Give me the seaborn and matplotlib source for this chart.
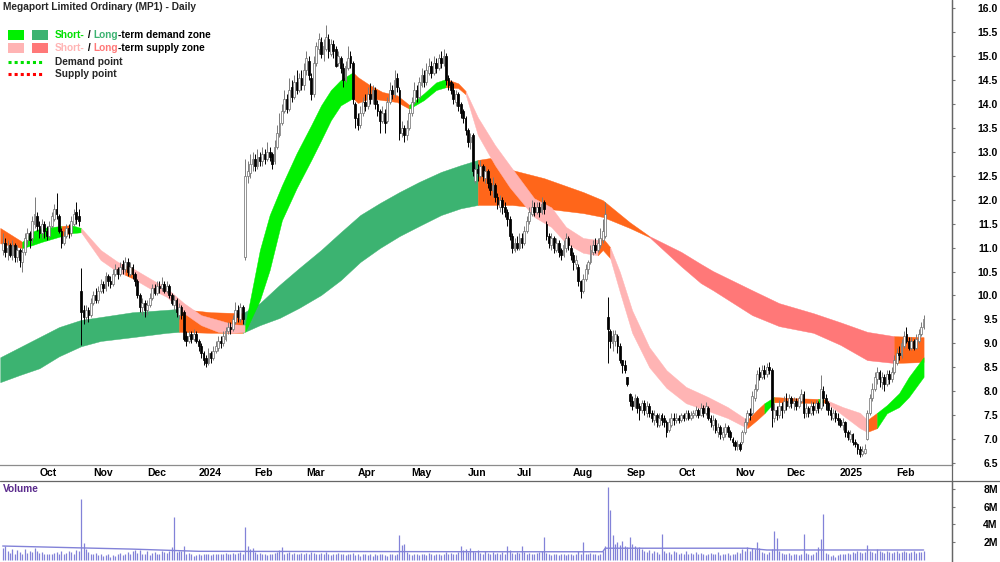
import numpy as np
import pandas as pd
import matplotlib
matplotlib.use("Agg")
import matplotlib.pyplot as plt
import matplotlib.transforms as mtransforms
from matplotlib.patches import Rectangle
from matplotlib.lines import Line2D
import seaborn as sns

TITLE = "Megaport Limited Ordinary (MP1) - Daily"

# trading days, 12 Sep 2023 .. 19 Feb 2025 (x axis = trading day number)
dates = pd.bdate_range("2023-09-12", periods=377)

# ---- daily candles (one row of numbers per month) ----
opens = [
    10.95, 11.10, 10.90, 11.05, 10.85, 11.05, 10.80, 10.95, 10.70, 10.90, 11.15, 11.30, 11.20, 11.50,
    11.65, 11.45, 11.30, 11.50, 11.35, 11.25, 11.45, 11.60, 11.80, 11.65, 11.35, 11.10, 11.25, 11.40, 11.30, 11.50, 11.75, 11.65, 10.10, 9.70, 9.55, 9.70,
    9.60, 9.85, 10.00, 9.90, 10.10, 10.25, 10.15, 10.40, 10.30, 10.25, 10.45, 10.55, 10.45, 10.65, 10.55, 10.70, 10.45, 10.60, 10.45, 10.30, 10.00, 9.75,
    9.85, 9.70, 9.80, 9.95, 10.15, 10.05, 10.20, 10.15, 10.25, 10.10, 10.20, 10.00, 9.80, 9.90, 9.60, 9.75, 9.65, 9.15, 9.05, 9.20, 9.10,
    9.20, 9.05, 8.95, 8.80, 8.70, 8.60, 8.80, 8.70, 8.85, 8.90, 9.05, 9.00, 9.10, 9.25, 9.35, 9.30, 9.45, 9.70, 9.50, 9.75, 10.80, 12.50, 12.55,
    12.75, 12.85, 12.70, 12.90, 12.80, 12.95, 12.85, 13.00, 12.95, 12.80, 13.10, 13.35, 13.60, 13.85, 14.10, 13.90, 14.35, 14.15, 14.45, 14.30, 14.55,
    14.40, 14.70, 14.90, 14.55, 14.20, 14.85, 15.15, 15.30, 15.05, 15.15, 15.35, 15.05, 15.25, 15.15, 14.85, 14.95, 14.75, 14.50, 14.75, 15.00, 14.85,
    14.00, 13.70, 13.55, 13.80, 14.05, 13.95, 14.20, 14.10, 14.30, 14.00, 13.85, 13.65, 13.80, 13.65, 14.05, 14.30, 14.20, 14.55, 14.30, 13.40, 13.50, 13.35,
    13.50, 13.80, 14.05, 14.30, 14.15, 14.40, 14.60, 14.45, 14.65, 14.80, 14.65, 14.85, 14.75, 14.95, 14.85, 15.00, 14.55, 14.45, 14.30, 14.05, 14.20, 14.00, 13.85,
    13.70, 13.45, 13.20, 13.35, 12.40, 12.65, 12.50, 12.70, 12.45, 12.60, 12.35, 12.20, 12.30, 12.05, 11.85, 12.00, 11.85, 11.75, 11.60, 11.25,
    10.95, 11.10, 11.00, 11.20, 11.10, 11.35, 11.55, 11.70, 11.85, 11.75, 11.85, 11.75, 11.95, 11.50, 11.25, 11.05, 11.20, 10.95, 11.10, 10.95, 10.85, 11.00, 11.20,
    11.00, 10.85, 10.65, 10.60, 10.30, 10.10, 10.35, 10.55, 10.70, 10.90, 11.05, 10.95, 11.05, 11.15, 11.25, 9.55, 9.25, 9.00, 9.05, 9.15, 8.95, 8.65,
    8.55, 8.30, 7.95, 7.80, 7.70, 7.85, 7.70, 7.60, 7.75, 7.55, 7.70, 7.55, 7.40, 7.50, 7.30, 7.50, 7.45, 7.35, 7.20, 7.30, 7.45,
    7.40, 7.45, 7.40, 7.50, 7.45, 7.55, 7.45, 7.50, 7.50, 7.60, 7.50, 7.65, 7.55, 7.65, 7.45, 7.30, 7.40, 7.15, 7.25, 7.05, 7.10, 7.25, 7.15,
    7.00, 6.95, 6.85, 6.90, 6.95, 7.15, 7.35, 7.55, 7.55, 7.85, 8.05, 8.40, 8.30, 8.45, 8.35, 8.50, 8.44, 7.45, 7.60, 7.50, 7.70,
    7.60, 7.80, 7.70, 7.85, 7.75, 7.80, 7.70, 7.80, 7.95, 7.55, 7.65, 7.55, 7.70, 7.60, 7.75, 7.65, 8.00, 7.85, 7.75, 7.60, 7.45, 7.55,
    7.45, 7.40, 7.30, 7.35, 7.15, 7.00, 7.10, 6.95, 6.90, 6.80, 6.68, 6.72, 7.00, 7.55, 7.85, 8.05, 8.25, 8.40, 8.20, 8.30, 8.15, 8.35, 8.25,
    8.40, 8.60, 8.80, 8.75, 8.95, 9.20, 9.05, 8.90, 9.05, 8.90, 9.05, 9.20, 9.35,
]
highs = [
    11.30, 11.20, 11.15, 11.10, 11.15, 11.10, 11.05, 11.00, 11.00, 11.30, 11.40, 11.35, 11.65, 12.05,
    11.75, 11.55, 11.60, 11.55, 11.45, 11.55, 11.75, 11.90, 12.13, 11.70, 11.40, 11.35, 11.50, 11.50, 11.65, 11.80, 11.95, 11.80, 10.57, 9.80, 9.80, 9.75,
    9.95, 10.10, 10.15, 10.20, 10.35, 10.30, 10.50, 10.45, 10.40, 10.55, 10.65, 10.60, 10.70, 10.75, 10.80, 10.78, 10.70, 10.65, 10.50, 10.35, 10.05, 9.95,
    9.90, 9.90, 10.05, 10.25, 10.25, 10.30, 10.30, 10.38, 10.30, 10.30, 10.25, 10.05, 10.00, 9.95, 9.85, 9.80, 9.70, 9.25, 9.25, 9.25, 9.30,
    9.25, 9.10, 9.00, 8.85, 8.75, 8.90, 8.85, 8.95, 9.05, 9.15, 9.15, 9.25, 9.35, 9.45, 9.45, 9.60, 9.86, 9.80, 9.85, 9.80, 12.85, 12.80, 12.95,
    13.00, 12.95, 13.05, 13.00, 13.10, 13.05, 13.20, 13.10, 13.00, 13.25, 13.55, 13.80, 14.00, 14.30, 14.20, 14.55, 14.50, 14.60, 14.70, 14.65, 14.70,
    14.85, 15.10, 15.00, 14.65, 15.00, 15.30, 15.48, 15.40, 15.35, 15.65, 15.45, 15.35, 15.33, 15.20, 15.10, 15.00, 14.85, 14.90, 15.20, 15.10, 14.90,
    14.05, 13.80, 13.95, 14.15, 14.20, 14.35, 14.43, 14.40, 14.35, 14.08, 13.90, 13.95, 13.90, 14.15, 14.45, 14.40, 14.70, 14.65, 14.35, 13.65, 13.55, 13.66,
    13.90, 14.15, 14.45, 14.40, 14.56, 14.75, 14.70, 14.85, 14.95, 14.90, 15.00, 14.95, 15.05, 15.10, 15.15, 15.06, 14.60, 14.50, 14.43, 14.30, 14.25, 14.05, 13.90,
    13.75, 13.50, 13.40, 13.39, 12.75, 12.75, 12.83, 12.75, 12.70, 12.65, 12.45, 12.47, 12.35, 12.14, 12.10, 12.05, 11.95, 11.80, 11.65, 11.30,
    11.20, 11.25, 11.30, 11.30, 11.45, 11.65, 11.85, 11.99, 11.95, 11.95, 11.95, 12.05, 12.00, 11.55, 11.30, 11.30, 11.25, 11.20, 11.15, 11.00, 11.15, 11.30, 11.25,
    11.05, 10.90, 10.85, 10.65, 10.32, 10.45, 10.65, 10.74, 11.05, 11.15, 11.20, 11.20, 11.40, 11.60, 11.95, 9.97, 9.30, 9.28, 9.28, 9.20, 9.00, 8.65,
    8.65, 8.30, 7.96, 7.90, 7.95, 7.90, 7.75, 7.82, 7.82, 7.80, 7.75, 7.61, 7.61, 7.55, 7.55, 7.55, 7.50, 7.40, 7.45, 7.55, 7.55,
    7.55, 7.50, 7.55, 7.55, 7.61, 7.60, 7.58, 7.61, 7.70, 7.65, 7.75, 7.72, 7.78, 7.70, 7.50, 7.50, 7.45, 7.34, 7.30, 7.25, 7.34, 7.30, 7.20,
    7.05, 6.98, 6.98, 6.95, 7.20, 7.45, 7.60, 7.65, 8.00, 8.15, 8.45, 8.50, 8.55, 8.55, 8.59, 8.62, 8.48, 7.75, 7.70, 7.82, 7.78,
    7.90, 7.96, 7.95, 7.90, 7.88, 7.85, 7.90, 8.05, 8.00, 7.75, 7.70, 7.80, 7.78, 7.82, 7.80, 8.34, 8.10, 7.95, 7.80, 7.67, 7.62, 7.60,
    7.55, 7.45, 7.45, 7.38, 7.20, 7.20, 7.13, 7.00, 6.92, 6.85, 6.85, 6.90, 7.60, 7.95, 8.17, 8.40, 8.50, 8.45, 8.40, 8.35, 8.45, 8.45, 8.50,
    8.75, 8.90, 8.95, 9.10, 9.25, 9.34, 9.13, 9.13, 9.10, 9.20, 9.30, 9.45, 9.59,
]
lows = [
    10.85, 10.80, 10.75, 10.80, 10.75, 10.70, 10.70, 10.60, 10.50, 10.85, 11.05, 11.00, 11.10, 11.40,
    11.35, 11.20, 11.20, 11.20, 11.15, 11.20, 11.40, 11.55, 11.60, 11.30, 11.00, 11.05, 11.20, 11.20, 11.25, 11.45, 11.50, 11.45, 8.96, 9.40, 9.45, 9.45,
    9.55, 9.80, 9.85, 9.85, 10.05, 10.05, 10.10, 10.20, 10.15, 10.20, 10.40, 10.35, 10.40, 10.45, 10.50, 10.40, 10.40, 10.35, 10.20, 9.95, 9.65, 9.60,
    9.55, 9.60, 9.75, 9.90, 10.00, 10.00, 10.05, 10.10, 10.05, 10.05, 9.95, 9.80, 9.70, 9.55, 9.50, 9.50, 9.05, 8.95, 9.00, 9.00, 9.05,
    9.00, 8.85, 8.70, 8.55, 8.50, 8.55, 8.60, 8.65, 8.80, 8.85, 8.90, 8.95, 9.05, 9.20, 9.20, 9.25, 9.40, 9.45, 9.45, 9.40, 10.75, 12.35, 12.45,
    12.60, 12.60, 12.65, 12.70, 12.70, 12.75, 12.80, 12.80, 12.65, 12.75, 13.05, 13.30, 13.55, 13.80, 13.80, 13.85, 14.05, 14.10, 14.20, 14.25, 14.30,
    14.30, 14.60, 14.50, 14.08, 14.15, 14.80, 15.05, 14.95, 14.90, 15.10, 14.95, 15.00, 14.95, 14.77, 14.80, 14.65, 14.35, 14.45, 14.70, 14.75, 14.00,
    13.50, 13.45, 13.50, 13.75, 13.85, 13.90, 14.00, 14.00, 13.90, 13.75, 13.40, 13.60, 13.39, 13.60, 14.00, 14.10, 14.15, 14.25, 13.25, 13.30, 13.20, 13.25,
    13.45, 13.75, 14.00, 14.05, 14.10, 14.35, 14.35, 14.40, 14.60, 14.55, 14.60, 14.64, 14.70, 14.75, 14.80, 14.40, 14.30, 14.20, 14.00, 13.95, 13.85, 13.70, 13.60,
    13.35, 13.10, 13.05, 12.50, 12.35, 12.40, 12.45, 12.40, 12.35, 12.25, 12.10, 12.05, 11.95, 11.80, 11.75, 11.70, 11.64, 11.45, 11.15, 10.89,
    10.90, 10.95, 10.95, 11.00, 11.05, 11.30, 11.50, 11.65, 11.65, 11.70, 11.64, 11.70, 11.70, 11.15, 11.00, 10.95, 10.89, 10.90, 10.80, 10.74, 10.80, 10.90, 10.95,
    10.75, 10.53, 10.55, 10.20, 9.95, 10.05, 10.30, 10.45, 10.65, 10.85, 10.89, 10.90, 11.00, 11.10, 11.20, 8.59, 8.90, 8.85, 8.95, 8.80, 8.59, 8.38,
    8.38, 8.10, 7.70, 7.60, 7.65, 7.55, 7.40, 7.55, 7.50, 7.46, 7.46, 7.35, 7.30, 7.25, 7.25, 7.30, 7.25, 7.04, 7.15, 7.25, 7.30,
    7.34, 7.34, 7.35, 7.38, 7.40, 7.40, 7.40, 7.45, 7.46, 7.45, 7.48, 7.46, 7.50, 7.40, 7.25, 7.20, 7.13, 7.05, 7.00, 6.98, 7.05, 7.05, 6.98,
    6.85, 6.77, 6.77, 6.75, 6.90, 7.10, 7.30, 7.40, 7.50, 7.80, 8.00, 8.23, 8.25, 8.25, 8.30, 8.35, 7.25, 7.35, 7.40, 7.45, 7.45,
    7.55, 7.60, 7.65, 7.65, 7.61, 7.61, 7.65, 7.75, 7.45, 7.46, 7.46, 7.50, 7.50, 7.55, 7.55, 7.60, 7.70, 7.61, 7.50, 7.40, 7.40, 7.35,
    7.30, 7.25, 7.20, 7.05, 6.98, 6.95, 6.88, 6.84, 6.70, 6.63, 6.65, 6.68, 6.98, 7.50, 7.80, 8.00, 8.15, 8.09, 8.05, 8.00, 8.10, 8.15, 8.20,
    8.35, 8.55, 8.65, 8.70, 8.90, 9.00, 8.86, 8.86, 8.86, 8.88, 9.00, 9.15, 9.30,
]
closes = [
    11.10, 10.90, 11.00, 10.85, 11.05, 10.80, 10.95, 10.75, 10.90, 11.20, 11.30, 11.15, 11.55, 11.70,
    11.45, 11.30, 11.50, 11.35, 11.25, 11.45, 11.65, 11.80, 11.70, 11.35, 11.10, 11.25, 11.40, 11.30, 11.55, 11.70, 11.60, 11.55, 9.65, 9.55, 9.70, 9.60,
    9.85, 10.00, 9.90, 10.10, 10.25, 10.15, 10.40, 10.30, 10.25, 10.45, 10.55, 10.45, 10.60, 10.55, 10.70, 10.50, 10.60, 10.45, 10.30, 10.00, 9.75, 9.85,
    9.70, 9.80, 9.95, 10.15, 10.05, 10.20, 10.15, 10.25, 10.10, 10.20, 10.00, 9.85, 9.90, 9.65, 9.75, 9.60, 9.10, 9.05, 9.15, 9.10, 9.20,
    9.05, 8.95, 8.80, 8.65, 8.60, 8.80, 8.70, 8.85, 8.95, 9.05, 9.00, 9.15, 9.25, 9.35, 9.30, 9.50, 9.70, 9.55, 9.75, 9.50, 12.50, 12.60, 12.75,
    12.85, 12.70, 12.90, 12.80, 12.95, 12.85, 13.00, 12.90, 12.75, 13.10, 13.40, 13.60, 13.85, 14.10, 13.90, 14.30, 14.15, 14.45, 14.30, 14.55, 14.40,
    14.70, 14.95, 14.60, 14.20, 14.85, 15.20, 15.35, 15.05, 15.20, 15.40, 15.10, 15.25, 15.10, 14.80, 15.00, 14.75, 14.50, 14.80, 14.95, 14.85, 14.10,
    13.70, 13.55, 13.80, 14.05, 13.95, 14.20, 14.10, 14.30, 14.00, 13.85, 13.65, 13.80, 13.60, 14.05, 14.30, 14.20, 14.50, 14.35, 13.40, 13.50, 13.35, 13.50,
    13.80, 14.05, 14.30, 14.15, 14.45, 14.60, 14.45, 14.70, 14.80, 14.65, 14.85, 14.75, 14.95, 14.85, 15.00, 14.50, 14.40, 14.30, 14.10, 14.20, 13.95, 13.80, 13.70,
    13.45, 13.20, 13.30, 12.60, 12.65, 12.55, 12.70, 12.50, 12.60, 12.35, 12.20, 12.30, 12.05, 11.90, 12.00, 11.85, 11.75, 11.60, 11.25, 11.00,
    11.10, 11.00, 11.20, 11.10, 11.35, 11.55, 11.75, 11.85, 11.75, 11.85, 11.75, 11.90, 11.80, 11.25, 11.10, 11.20, 11.00, 11.10, 10.90, 10.85, 11.05, 11.20, 11.05,
    10.85, 10.70, 10.75, 10.30, 10.10, 10.35, 10.55, 10.70, 10.95, 11.05, 10.95, 11.10, 11.20, 11.35, 11.70, 9.30, 9.05, 9.15, 9.20, 8.95, 8.65, 8.55,
    8.45, 8.15, 7.80, 7.70, 7.85, 7.65, 7.60, 7.75, 7.60, 7.70, 7.55, 7.45, 7.50, 7.35, 7.45, 7.40, 7.35, 7.15, 7.35, 7.45, 7.40,
    7.45, 7.40, 7.50, 7.45, 7.55, 7.45, 7.50, 7.55, 7.60, 7.50, 7.65, 7.55, 7.70, 7.45, 7.35, 7.40, 7.20, 7.25, 7.10, 7.15, 7.25, 7.15, 7.05,
    6.95, 6.85, 6.90, 6.80, 7.15, 7.35, 7.55, 7.50, 7.90, 8.05, 8.35, 8.30, 8.45, 8.35, 8.50, 8.45, 7.60, 7.60, 7.50, 7.70, 7.60,
    7.80, 7.70, 7.85, 7.75, 7.80, 7.70, 7.85, 7.95, 7.55, 7.65, 7.55, 7.70, 7.60, 7.75, 7.65, 8.05, 7.85, 7.75, 7.60, 7.50, 7.55, 7.45,
    7.40, 7.30, 7.35, 7.15, 7.05, 7.10, 6.95, 6.90, 6.80, 6.70, 6.75, 6.80, 7.55, 7.85, 8.05, 8.30, 8.40, 8.25, 8.30, 8.15, 8.35, 8.25, 8.40,
    8.65, 8.80, 8.75, 9.00, 9.15, 9.05, 8.90, 9.05, 8.90, 9.10, 9.20, 9.35, 9.50,
]
# daily volume, millions of shares
volume_m = [
    1.3, 1.6, 1.0, 0.8, 1.2, 0.7, 1.1, 0.9, 0.6, 1.2, 0.8, 1.0, 0.9, 1.3,
    1.0, 0.8, 0.9, 0.7, 0.6, 0.7, 0.6, 0.8, 0.9, 0.7, 1.0, 0.6, 0.8, 1.0, 0.9, 0.7, 1.1, 1.0, 6.9, 1.9, 1.2, 0.9,
    0.7, 0.6, 0.8, 0.5, 0.6, 0.4, 0.5, 0.7, 0.3, 0.5, 0.4, 0.6, 0.8, 0.5, 0.7, 0.9, 0.6, 1.0, 1.1, 0.8, 1.1, 0.7,
    0.6, 1.0, 0.5, 0.8, 0.9, 0.7, 0.6, 1.0, 0.9, 0.8, 1.0, 1.4, 4.8, 0.9, 1.0, 1.0, 1.5, 0.7, 0.8, 0.6, 0.4,
    0.5, 0.6, 0.5, 0.6, 0.7, 0.6, 0.5, 0.7, 0.6, 0.7, 0.6, 0.7, 0.8, 0.7, 0.6, 0.8, 0.7, 0.8, 0.9, 0.6, 3.7, 1.5, 1.2,
    1.3, 0.9, 0.7, 0.8, 0.6, 0.7, 0.5, 0.6, 0.7, 0.8, 0.9, 1.1, 1.4, 0.6, 0.8, 0.9, 0.7, 0.8, 0.7, 0.6, 0.8,
    0.7, 0.8, 0.6, 0.9, 0.8, 0.7, 0.6, 0.8, 0.7, 0.9, 0.6, 0.5, 0.7, 0.6, 0.8, 0.7, 0.6, 0.5, 0.7, 0.6, 0.8,
    0.5, 0.6, 0.4, 0.7, 0.6, 0.5, 0.7, 0.4, 0.6, 0.5, 0.7, 0.6, 0.5, 0.4, 0.6, 0.7, 0.5, 0.6, 2.8, 1.7, 1.8, 0.9,
    0.6, 0.5, 0.7, 0.6, 0.5, 0.7, 0.6, 0.5, 0.8, 0.6, 0.5, 0.7, 0.6, 0.5, 0.7, 0.9, 0.6, 0.8, 0.7, 0.6, 0.9, 1.5, 1.1,
    1.2, 0.9, 1.3, 1.0, 0.9, 1.1, 0.8, 0.7, 1.0, 0.8, 0.7, 0.9, 0.6, 0.8, 0.7, 0.9, 0.6, 1.6, 1.1, 0.8,
    0.7, 0.9, 0.8, 1.6, 0.9, 0.7, 0.8, 0.6, 0.7, 0.8, 0.9, 1.0, 2.6, 0.8, 0.6, 0.5, 0.7, 0.6, 0.5, 0.6, 0.7, 0.5, 0.6,
    0.6, 0.5, 0.7, 1.0, 0.6, 2.0, 0.7, 0.6, 0.8, 0.7, 0.6, 0.5, 0.7, 1.0, 1.5, 8.2, 5.6, 2.8, 1.8, 2.0, 1.7, 2.1,
    1.6, 1.4, 2.6, 1.8, 1.5, 1.3, 1.4, 1.2, 1.0, 0.9, 1.1, 0.8, 1.0, 0.9, 0.7, 2.9, 1.0, 0.8, 0.9, 0.7, 1.0,
    0.9, 0.6, 0.8, 0.7, 1.0, 0.6, 0.8, 0.7, 0.9, 0.6, 0.8, 0.7, 0.5, 0.6, 0.8, 0.7, 0.6, 0.9, 0.5, 0.7, 0.6, 0.8, 0.5,
    0.7, 0.6, 0.9, 0.8, 1.2, 1.0, 1.4, 1.0, 1.3, 1.2, 2.0, 1.3, 0.9, 0.8, 0.7, 0.9, 1.2, 3.2, 2.5, 1.0, 0.8,
    0.7, 0.6, 0.8, 0.5, 0.6, 0.7, 0.5, 0.6, 2.9, 0.8, 0.6, 0.5, 0.7, 0.9, 1.4, 2.4, 5.2, 0.8, 0.6, 0.4, 0.5, 0.3,
    0.5, 0.6, 0.7, 0.6, 0.8, 0.7, 0.9, 0.8, 1.0, 0.9, 0.8, 0.9, 1.7, 1.0, 0.9, 0.8, 1.2, 1.0, 0.9, 0.8, 1.0, 0.9, 0.8,
    0.9, 1.0, 0.8, 0.9, 1.0, 0.9, 0.8, 0.9, 1.0, 0.8, 0.9, 0.9, 1.0,
]
# volume average line (read at a few trading days)
vol_avg_day = [0, 30, 53, 80, 203, 245, 246, 304, 312, 376]
vol_avg_m = [1.55, 1.35, 1.2, 0.95, 0.9, 0.9, 1.3, 1.3, 1.1, 1.1]

# ---- zones: edges read at trading days, state per interval ----
# D = demand, S = supply, N = orange (neither)
long_day = [-1, 7, 15, 23, 32, 40, 53, 67, 72, 85, 98, 105, 113, 121, 130, 138, 146, 154, 162, 170,
            179, 187, 194, 199, 208, 221, 237, 245, 256, 264, 277, 285, 290, 306, 317, 331, 342, 353, 364, 376]
long_top = [8.71, 8.92, 9.13, 9.34, 9.49, 9.55, 9.65, 9.70, 9.72, 9.65, 9.63, 9.84, 10.22, 10.57, 10.95, 11.32, 11.68, 11.93, 12.16, 12.37,
            12.58, 12.72, 12.83, 12.87, 12.62, 12.45, 12.16, 11.99, 11.53, 11.24, 10.91, 10.66, 10.51, 10.11, 9.84, 9.63, 9.44, 9.24, 9.15, 9.13]
long_bot = [8.19, 8.34, 8.48, 8.73, 8.94, 9.05, 9.13, 9.22, 9.24, 9.22, 9.22, 9.38, 9.53, 9.74, 10.01, 10.32, 10.70, 10.99, 11.24, 11.45,
            11.68, 11.82, 11.89, 11.89, 11.89, 11.82, 11.72, 11.64, 11.41, 11.22, 10.61, 10.26, 10.11, 9.59, 9.36, 9.22, 8.97, 8.65, 8.59, 8.61]
long_state = "DDDDDDDDNNDDDDDDDDDDDDNNNNNNNSSSSSSSSSN"

short_day = [-1, 8, 12, 16, 24, 28, 32, 40, 47, 50, 53, 60, 67, 74, 81, 88, 94, 99, 105, 109,
             114, 120, 126, 130, 134, 138, 143, 145, 150, 155, 161, 166, 172, 177, 181, 186, 189, 194, 201, 207,
             217, 224, 230, 237, 243, 245, 248, 252, 257, 264, 271, 279, 288, 296, 304, 308, 311, 315, 321, 333,
             335, 337, 343, 350, 353, 357, 361, 366, 370, 376]
short_top = [11.41, 11.12, 11.33, 11.41, 11.45, 11.47, 11.41, 10.95, 10.70, 10.63, 10.57, 10.36, 10.15, 9.84, 9.59, 9.49, 9.40, 9.38, 10.95, 11.68,
             12.30, 12.97, 13.56, 13.97, 14.29, 14.50, 14.66, 14.56, 14.39, 14.25, 14.18, 13.98, 14.22, 14.45, 14.52, 14.43, 14.27, 13.72, 13.14, 12.72,
             12.03, 11.84, 11.43, 11.20, 11.16, 11.20, 11.01, 10.49, 9.69, 8.92, 8.44, 8.09, 7.88, 7.67, 7.40, 7.61, 7.75, 7.88, 7.86, 7.84,
             7.84, 7.80, 7.67, 7.55, 7.40, 7.55, 7.71, 7.96, 8.30, 8.71]
short_bot = [11.09, 10.99, 11.05, 11.12, 11.24, 11.30, 11.32, 10.74, 10.49, 10.43, 10.36, 10.15, 9.97, 9.63, 9.38, 9.24, 9.22, 9.24, 9.90, 10.53,
             11.57, 12.24, 12.83, 13.24, 13.66, 13.97, 14.12, 14.02, 14.12, 14.08, 14.04, 13.90, 14.08, 14.29, 14.35, 14.33, 14.20, 13.35, 12.72, 12.26,
             11.64, 11.43, 11.09, 10.89, 10.84, 10.95, 10.78, 10.07, 9.22, 8.50, 8.07, 7.75, 7.59, 7.44, 7.23, 7.40, 7.54, 7.77, 7.77, 7.75,
             7.77, 7.73, 7.50, 7.23, 7.15, 7.23, 7.54, 7.67, 7.88, 8.30]
short_state = "NDDDNDSSSNSSSSSSSDDDDDDDDDNNNNNDDDNNSSSSSSSSNNSSSSSSSSNNDNNDNSSSNDDDD"

for arr in (opens, highs, lows, closes, volume_m):
    assert len(arr) == len(dates), len(arr)
assert len(long_state) == len(long_day) - 1
assert len(short_state) == len(short_day) - 1

SHORT_COLORS = {"D": "#00f000", "S": "#ffb4b4", "N": "#ff661a"}
LONG_COLORS = {"D": "#3cb371", "S": "#ff7878", "N": "#ff661a"}


def draw_zone(ax, day, top, bot, state, colors, z):
    day, top, bot = np.asarray(day), np.asarray(top), np.asarray(bot)
    start = 0
    for k in range(1, len(state) + 1):
        if k == len(state) or state[k] != state[start]:
            sl = slice(start, k + 1)
            ax.fill_between(day[sl], bot[sl], top[sl], color=colors[state[start]],
                            lw=0.3, zorder=z)
            start = k


sns.set_theme(style="white")
plt.rcParams['font.family'] = ['Liberation Sans', 'DejaVu Sans']
FS = 7.3

fig = plt.figure(figsize=(10, 5.62), dpi=100)
W, H = 1000, 562
ax = fig.add_axes([0, 1 - 465 / H, 952 / W, 465 / H])
axv = fig.add_axes([0, 0, 952 / W, 81 / H], sharex=ax)

days = np.arange(len(dates))
o, h, l, c = map(np.asarray, (opens, highs, lows, closes))
up = c >= o

# zones under the candles
draw_zone(ax, long_day, long_top, long_bot, long_state, LONG_COLORS, 1)
draw_zone(ax, short_day, short_top, short_bot, short_state, SHORT_COLORS, 2)

# candles
ax.vlines(days, l, h, colors=np.where(up, "#7a7a7a", "#000000"), lw=0.7, zorder=3)
ax.bar(days, np.maximum(np.abs(c - o), 0.02), bottom=np.minimum(o, c), width=0.74,
       color=np.where(up, "#ffffff", "#000000"), edgecolor=np.where(up, "#767676", "#000000"),
       linewidth=0.55, zorder=4)

ax.set_xlim(-1.1, 387.6)
ax.set_ylim(6.46, 16.17)
ax.set_yticks(np.arange(6.5, 16.01, 0.5))
ax.yaxis.set_major_formatter(matplotlib.ticker.FormatStrFormatter("%.1f"))
ax.yaxis.tick_right()
ax.tick_params(axis="y", direction="out", length=2.5, width=0.8, color="#777777",
               pad=30.5, labelsize=FS + 0.2, labelcolor="black")
for t in ax.get_yticklabels():
    t.set_ha("right")
    t.set_fontweight("bold")

# month ticks on the bottom of the price panel
month_start = [i for i in range(1, len(dates)) if dates[i].month != dates[i - 1].month]
month_lbl = [str(dates[i].year) if dates[i].month == 1 else dates[i].strftime("%b") for i in month_start]
ax.set_xticks(month_start)
ax.set_xticklabels([])
ax.tick_params(axis="x", direction="out", length=2.5, width=0.8, color="#888888")
blend = mtransforms.blended_transform_factory(ax.transData, ax.transAxes)
for i, lbl in zip(month_start, month_lbl):
    ax.text(i + 0.9, -0.006, lbl, transform=blend, ha="left", va="top",
            fontsize=FS + 0.2, fontweight="bold", color="black", clip_on=False)

for s in ("top", "left"):
    ax.spines[s].set_visible(False)
ax.spines["bottom"].set_color("#8c8c8c")
ax.spines["bottom"].set_linewidth(0.9)
ax.spines["right"].set_color("#666666")
ax.spines["right"].set_linewidth(0.9)

# volume panel
axv.vlines(days, 0, volume_m, colors="#8282d8", lw=0.9, zorder=2)
sns.lineplot(x=vol_avg_day, y=vol_avg_m, ax=axv, color="#8282d8", lw=1.0, zorder=3)
axv.set_ylim(-0.26, 8.91)
axv.set_yticks([2, 4, 6, 8])
axv.set_yticklabels(["2M", "4M", "6M", "8M"])
axv.yaxis.tick_right()
axv.tick_params(axis="y", direction="out", length=2.5, width=0.8, color="#777777",
                pad=30.5, labelsize=FS + 0.2, labelcolor="black")
for t in axv.get_yticklabels():
    t.set_ha("right")
    t.set_fontweight("bold")
axv.tick_params(axis="x", length=0, labelbottom=False)
axv.set_xlabel("")
axv.set_ylabel("")
for s in ("bottom", "left", "top"):
    axv.spines[s].set_visible(False)
axv.spines["right"].set_color("#666666")
axv.spines["right"].set_linewidth(0.9)
fig.text(3 / W, 1 - 484 / H, "Volume", color="#5a2a8c", fontsize=FS, fontweight="bold",
         ha="left", va="top")

# frame lines across the figure
fig.add_artist(Line2D([0, 1], [1 - 481 / H, 1 - 481 / H], transform=fig.transFigure,
                      color="#666666", lw=0.9))
fig.add_artist(Line2D([952 / W, 952 / W], [0, 1], transform=fig.transFigure,
                      color="#666666", lw=0.9))

# title and legend
fig.text(3 / W, 1 - 2 / H, TITLE, fontsize=FS, fontweight="bold", ha="left", va="top")


def fig_rect(x, y, w, hgt, color):
    fig.add_artist(Rectangle((x / W, 1 - (y + hgt) / H), w / W, hgt / H,
                             transform=fig.transFigure, color=color, lw=0))


def rainbow(x, y, parts):
    t = fig.text(x / W, 1 - y / H, parts[0][0], color=parts[0][1], fontsize=FS,
                 fontweight="bold", ha="left", va="center")
    for txt, col in parts[1:]:
        t = ax.annotate(txt, xy=(1, 0), xycoords=t, xytext=(0, 0), textcoords="offset points",
                        ha="left", va="bottom", color=col, fontsize=FS, fontweight="bold",
                        annotation_clip=False)


fig_rect(8, 30, 16, 10, SHORT_COLORS["D"])
fig_rect(32, 30, 16, 10, LONG_COLORS["D"])
fig_rect(8, 43, 16, 10, SHORT_COLORS["S"])
fig_rect(32, 43, 16, 10, LONG_COLORS["S"])
rainbow(55, 35, [("Short-", "#00e000"), (" / ", "black"), ("Long", LONG_COLORS["D"]),
                 ("-term demand zone", "black")])
rainbow(55, 48, [("Short-", SHORT_COLORS["S"]), (" / ", "black"), ("Long", LONG_COLORS["S"]),
                 ("-term supply zone", "black")])
fig.add_artist(Line2D([8 / W, 44 / W], [1 - 62 / H, 1 - 62 / H], transform=fig.transFigure,
                      color="#00e000", lw=2.2, linestyle=(0, (1, 1))))
fig.add_artist(Line2D([8 / W, 44 / W], [1 - 74 / H, 1 - 74 / H], transform=fig.transFigure,
                      color="#ff0000", lw=2.2, linestyle=(0, (1, 1))))
fig.text(55 / W, 1 - 62 / H, "Demand point", fontsize=FS, fontweight="bold", ha="left", va="center")
fig.text(55 / W, 1 - 74 / H, "Supply point", fontsize=FS, fontweight="bold", ha="left", va="center")

fig.savefig("out.png", dpi=100)
